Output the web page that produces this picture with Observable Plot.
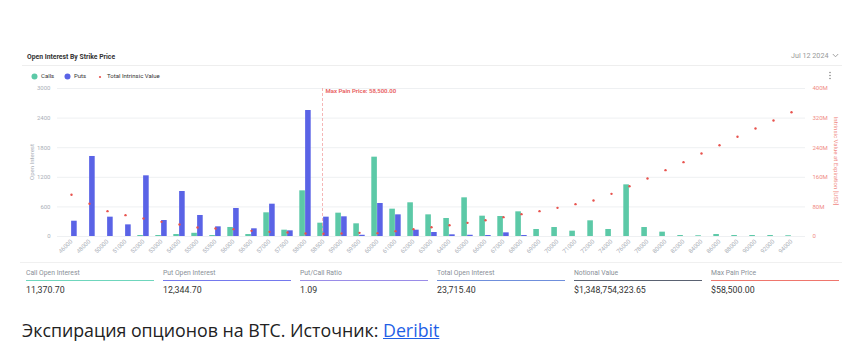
<!DOCTYPE html>
<html>
<head>
<meta charset="utf-8">
<script src="https://cdn.jsdelivr.net/npm/d3@7"></script>
<script src="https://cdn.jsdelivr.net/npm/@observablehq/plot@0.6"></script>
<style>
  body { margin: 0; background: #fff; font-family: Roboto, "Open Sans", sans-serif; }
  #page { position: relative; width: 855px; height: 354px; overflow: hidden; background: #fff; }
  .abs { position: absolute; white-space: nowrap; }
  .chart { position: absolute; left: 0; top: 80px; }
  .lg { position: absolute; top: 72px; font-size: 6px; line-height: 8px; color: #333; }
  .stat-l { position: absolute; top: 268.5px; font-size: 6.8px; line-height: 8px; color: #8a8f98; }
  .stat-u { position: absolute; top: 280px; width: 128px; height: 1.2px; }
  .stat-v { position: absolute; top: 285px; font-size: 8.8px; line-height: 10px; color: #333; }
</style>
</head>
<body>
<div id="page">
  <div class="abs" style="left:27px;top:52.5px;font-size:6.8px;line-height:9px;font-weight:700;color:#333;">Open Interest By Strike Price</div>
  <div class="abs" style="left:791px;top:50.5px;font-size:7.2px;line-height:9px;color:#999;">Jul 12 2024</div>
  <svg class="abs" style="left:832px;top:53px;" width="7" height="5"><polyline points="0.8,1 3.5,3.8 6.2,1" fill="none" stroke="#999" stroke-width="0.9"/></svg>
  <div class="abs" style="left:22px;top:65px;width:820px;height:1px;background:#eee;"></div>

  <svg class="abs" style="left:31px;top:73px;" width="7" height="7"><circle cx="3.5" cy="3.5" r="3" fill="#5cc9a7"/></svg>
  <div class="lg" style="left:41px;">Calls</div>
  <svg class="abs" style="left:64px;top:73px;" width="7" height="7"><circle cx="3.5" cy="3.5" r="3" fill="#5a63e6"/></svg>
  <div class="lg" style="left:74px;">Puts</div>
  <svg class="abs" style="left:98px;top:74.5px;" width="4" height="4"><circle cx="2" cy="2" r="1.1" fill="#e8534e"/></svg>
  <div class="lg" style="left:107px;">Total Intrinsic Value</div>
  <svg class="abs" style="left:828px;top:71px;" width="4" height="10"><circle cx="2" cy="1.5" r="0.8" fill="#888"/><circle cx="2" cy="4.5" r="0.8" fill="#888"/><circle cx="2" cy="7.5" r="0.8" fill="#888"/></svg>

  <div id="chart1" class="chart"></div>
  <div id="chart2" class="chart"></div>

  <div class="abs" style="left:32px;top:162px;font-size:6px;line-height:8px;color:#aab0b8;transform:translate(-50%,-50%) rotate(-90deg);">Open Interest</div>
  <div class="abs" style="left:836px;top:161px;font-size:6px;line-height:8px;color:#f08a84;transform:translate(-50%,-50%) rotate(90deg);">Intrinsic Value at Expiration [USD]</div>

  <div class="abs" style="left:20px;top:262px;width:822px;height:1px;background:#f0f0f0;"></div>
  <div id="stats"></div>

  <div class="abs" style="left:22px;top:319.5px;font-family:'Open Sans',sans-serif;font-size:17.8px;line-height:20px;color:#222;">Экспирация опционов на BTC. Источник: <span style="color:#1f5fe6;text-decoration:underline;">Deribit</span></div>
</div>
<script>
// ---- data ----
const strikes = ["46000","48000","50000","51000","52000","53000","54000","55000","55500","56000","56500","57000","57500","58000","58500","59000","59500","60000","61000","62000","63000","64000","65000","66000","67000","68000","69000","70000","71000","72000","74000","76000","78000","80000","82000","84000","86000","88000","90000","92000","94000"];
const calls = [0,0,0,0,20,20,40,65,20,183,40,480,128,926,270,473,257,1608,554,683,439,365,784,412,405,500,142,182,108,318,142,1047,182,88,20,15,40,20,20,20,15];
const puts = [310,1622,392,236,1230,324,912,426,196,568,156,655,115,2554,392,399,25,669,439,128,81,34,25,20,74,20,0,0,0,0,0,0,0,0,0,0,0,0,0,0,0];
const intrinsicM = [112.7,88.4,68.5,57.7,48.6,39.6,32.4,24.3,21.6,19.8,15.3,12.6,10.8,8.1,7.5,8.1,9.9,9,14.4,19.8,25.2,30.6,36.9,44.1,52.3,60.4,68.5,77.5,87.4,97.3,115.3,136,156.8,179.3,200.9,224.3,246.8,269.4,291.9,313.5,336];
const oiTicks = [0,600,1200,1800,2400,3000];
const ivTicks = [0,80,160,240,320,400];
const maxPainStrike = "58500";
const maxPainLabel = "Max Pain Price: 58,500.00";

const statLabels = ["Call Open Interest","Put Open Interest","Put/Call Ratio","Total Open Interest","Notional Value","Max Pain Price"];
const statValues = ["11,370.70","12,344.70","1.09","23,715.40","$1,348,754,323.65","$58,500.00"];
const statColors = ["#6fd6bd","#7479ee","#9a8ce8","#6f8fdc","#5a6272","#ef766d"];

// ---- layout ----
const W = 855, H = 180, mL = 57, mR = 50, mT = 8, mB = 24;
const bw = (W - mL - mR) / strikes.length;
const callRows = strikes.map((s, i) => ({strike: s, v: calls[i]}));
const putRows = strikes.map((s, i) => ({strike: s, v: puts[i]}));
const ivRows = strikes.map((s, i) => ({strike: s, v: intrinsicM[i]}));

const base = {
  width: W, height: H, marginLeft: mL, marginRight: mR, marginTop: mT, marginBottom: mB,
  style: {fontFamily: "Roboto, sans-serif", fontSize: "6px", background: "transparent", overflow: "visible"}
};

const chart1 = Plot.plot({
  ...base,
  x: {domain: strikes, padding: 0, axis: null},
  y: {domain: [0, 3000], axis: null},
  marks: [
    Plot.gridY(oiTicks, {stroke: "#eef0f2", strokeOpacity: 1}),
    Plot.axisY(oiTicks, {anchor: "left", tickSize: 0, tickPadding: 7, fill: "#aab0b8", label: null, tickFormat: d => String(d)}),
    Plot.axisX({tickRotate: -45, tickSize: 0, tickPadding: 4, fill: "#aab0b8", label: null}),
    Plot.barY(callRows, {x: "strike", y: "v", fill: "#5cc9a7", insetLeft: 3.3, insetRight: bw / 2}),
    Plot.barY(putRows, {x: "strike", y: "v", fill: "#5a63e6", insetLeft: bw / 2, insetRight: 3.3}),
    Plot.ruleX([maxPainStrike], {x: d => d, dx: -1, stroke: "#f3a3a3", strokeWidth: 0.8, strokeDasharray: "3,2"}),
    Plot.text([maxPainStrike], {x: d => d, y: () => 3000, text: () => maxPainLabel, textAnchor: "start", lineAnchor: "top", dx: 2, dy: 0, fill: "#e85b5b", fontWeight: 600})
  ]
});
document.getElementById("chart1").appendChild(chart1);

const chart2 = Plot.plot({
  ...base,
  x: {domain: strikes, padding: 0, axis: null},
  y: {domain: [0, 400], axis: null},
  marks: [
    Plot.axisY(ivTicks, {anchor: "right", tickSize: 0, tickPadding: 7, fill: "#f08a84", label: null, tickFormat: d => d === 0 ? "0" : d + "M"}),
    Plot.dot(ivRows, {x: "strike", y: "v", r: 1.2, fill: "#e8534e", stroke: null})
  ]
});
document.getElementById("chart2").appendChild(chart2);

// ---- stats ----
const stats = document.getElementById("stats");
statLabels.forEach((lab, i) => {
  const x = 26 + 137 * i;
  stats.insertAdjacentHTML("beforeend",
    `<div class="stat-l" style="left:${x}px">${lab}</div>` +
    `<div class="stat-u" style="left:${x}px;background:${statColors[i]}"></div>` +
    `<div class="stat-v" style="left:${x}px">${statValues[i]}</div>`);
});
</script>
</body>
</html>
